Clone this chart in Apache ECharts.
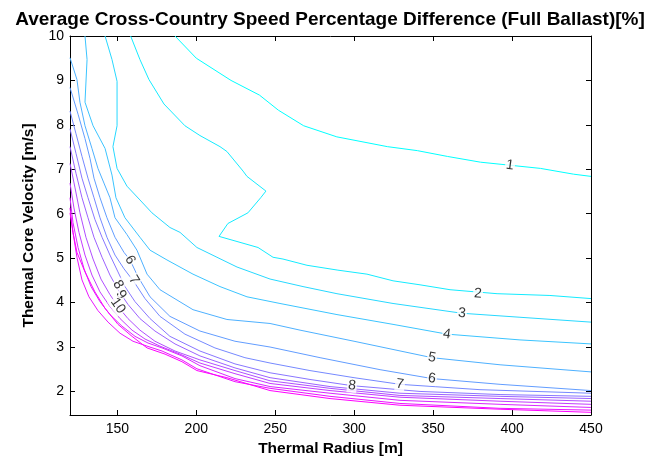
<!DOCTYPE html>
<html>
<head>
<meta charset="utf-8">
<script src="https://cdn.jsdelivr.net/npm/echarts@6/dist/echarts.min.js"></script>
<style>html,body{margin:0;padding:0;background:#fff}#c{width:660px;height:462px}</style>
</head>
<body>
<div id="c"></div>
<script>
const titleText = 'Average Cross-Country Speed Percentage Difference (Full Ballast)[%]';
const xName = 'Thermal Radius [m]';
const yName = 'Thermal Core Velocity [m/s]';
const xTicks = [150, 200, 250, 300, 350, 400, 450];
const yTicks = [2, 3, 4, 5, 6, 7, 8, 9, 10];
const levels = [1, 2, 3, 4, 5, 6, 7, 8, 9, 10, 11, 12, 13, 14];

const contour1 = [[186.5,10],[200,9.5],[222,9.0],[240,8.67],[252,8.33],[268,7.98],[289,7.73],[321,7.51],[340,7.42],[359,7.29],[380,7.16],[399,7.09],[418,7.02],[439,6.89],[450,6.84]];
const contour2 = [[158.4,10],[164.3,9.47],[170,9.02],[179.5,8.47],[192.8,7.98],[202.3,7.76],[215,7.51],[219.4,7.4],[229.6,6.96],[232.1,6.84],[244.1,6.51],[240.8,6.36],[232.7,6.02],[220,5.78],[214.4,5.49],[239.1,5.24],[248.6,5.02],[254.9,4.98],[270.1,4.84],[289.7,4.73],[308.1,4.64],[324.6,4.49],[341.7,4.4],[360.7,4.29],[390.5,4.2],[424,4.16],[450,4.09]];
const contour3 = [[142.2,10],[146.6,9.47],[149.8,8.98],[149.8,7.98],[147.2,7.51],[149.8,7.02],[156.1,6.62],[164.3,6.31],[171.9,6.02],[183.3,5.69],[189.7,5.58],[200.4,5.24],[213.1,5.02],[225.8,4.8],[246.7,4.53],[267.6,4.36],[289.1,4.2],[324.6,3.98],[368.3,3.76],[405,3.67],[450,3.56]];
const contour4 = [[129.5,10],[130.8,9.47],[129.5,8.51],[134.6,7.98],[142.2,7.47],[146.6,6.87],[149.1,6.36],[154.8,5.91],[164.3,5.47],[170.7,5.18],[181.4,4.96],[197.9,4.64],[215,4.36],[232.1,4.13],[253,3.98],[289.1,3.73],[324.6,3.51],[358.8,3.29],[405,3.16],[450,3.07]];
const contour5 = [[120,9.51],[124.4,9.02],[126.3,8.51],[129.5,7.98],[133.9,7.47],[137.7,7.02],[141.5,6.69],[145.3,6.36],[148.5,5.91],[156.1,5.53],[162.4,5.18],[168.8,4.64],[177,4.29],[197.9,3.84],[219.4,3.62],[246.7,3.53],[265.7,3.38],[299.9,3.13],[349.3,2.76],[392.4,2.6],[450,2.44]];
const contour6 = [[120,8.84],[125.1,8.24],[129.5,7.69],[132.7,7.24],[135.2,6.8],[139,6.36],[143.4,5.91],[148.5,5.47],[154.2,5.13],[158,4.96],[163.1,4.58],[170.7,4.13],[183.3,3.69],[202.3,3.36],[224.5,3.13],[246.7,3.0],[278.4,2.76],[316.4,2.49],[349.3,2.29],[392.4,2.16],[450,2.02]];
const contour7 = [[120,8.31],[123.8,7.8],[127.6,7.29],[131.4,6.8],[135.2,6.36],[139,5.91],[143.4,5.47],[148.5,5.07],[154.2,4.76],[160.5,4.47],[167.5,4.09],[177,3.69],[192.8,3.29],[211.8,2.98],[230.8,2.76],[246.7,2.64],[272,2.47],[299.9,2.31],[329,2.16],[379.7,2.04],[450,1.96]];
const contour8 = [[120,7.91],[123.8,7.36],[127.6,6.8],[131.4,6.36],[135.8,5.87],[140.3,5.47],[145.3,5.07],[150.4,4.69],[154.8,4.36],[161.2,4.02],[170.7,3.64],[183.3,3.24],[202.3,2.91],[224.5,2.62],[246.7,2.42],[272,2.27],[298.6,2.13],[341.7,2.0],[392.4,1.93],[450,1.89]];
const contour9 = [[120,7.51],[123.8,6.91],[127.6,6.36],[131.4,5.91],[135.2,5.47],[140.3,5.02],[145.3,4.62],[150.4,4.29],[156.7,3.96],[164.3,3.64],[173.8,3.36],[186.5,3.07],[202.3,2.8],[224.5,2.53],[246.7,2.31],[284.7,2.11],[329,1.96],[392.4,1.89],[450,1.84]];
const contour10 = [[120,7.13],[123.2,6.58],[126.3,6.02],[130.1,5.47],[134.6,4.98],[139.6,4.53],[145.3,4.18],[150.4,3.91],[156.7,3.64],[164.3,3.38],[173.8,3.13],[186.5,2.91],[202.3,2.71],[224.5,2.47],[246.7,2.24],[284.7,2.07],[329,1.91],[392.4,1.84],[450,1.78]];
const contour11 = [[120,6.69],[122.5,6.13],[125.7,5.58],[129.5,5.07],[133.9,4.62],[139,4.24],[145.3,3.91],[151.7,3.64],[159.3,3.38],[167.5,3.18],[177,3.02],[189.7,2.84],[202.3,2.64],[224.5,2.4],[246.7,2.18],[284.7,2.02],[329,1.87],[392.4,1.78],[450,1.71]];
const contour12 = [[120,6.36],[121.9,5.8],[125.1,5.24],[128.9,4.76],[133.3,4.36],[139,4.02],[145.3,3.73],[152.9,3.47],[161.2,3.24],[169.4,3.09],[178.3,2.98],[190.9,2.8],[202.3,2.58],[224.5,2.29],[246.7,2.11],[284.7,1.96],[329,1.8],[392.4,1.71],[450,1.64]];
const contour13 = [[120,6.13],[121.9,5.58],[124.4,5.02],[127.6,4.51],[132,4.13],[137.7,3.82],[144.1,3.56],[151.7,3.31],[159.9,3.13],[168.8,3.02],[178.3,2.91],[190.9,2.71],[200.4,2.51],[224.5,2.22],[246.7,2.07],[284.7,1.89],[329,1.73],[392.4,1.62],[450,1.58]];
const contour14 = [[120,6.02],[121.9,5.58],[124.4,5.13],[129.5,4.69],[135.8,4.24],[142.2,3.87],[150.4,3.51],[159.3,3.24],[168.8,2.98],[180.2,2.84],[190.9,2.67],[200.4,2.47],[219.4,2.31],[246.7,2.02],[284.7,1.84],[329,1.69],[392.4,1.6],[450,1.53]];

const contours = [contour1, contour2, contour3, contour4, contour5, contour6, contour7, contour8, contour9, contour10, contour11, contour12, contour13, contour14];

// contour labels: [x, y, text, angle]
const contourLabels = [
  [398.7, 7.09, '1', -8],
  [378.4, 4.20, '2', -4],
  [368.3, 3.76, '3', -5],
  [358.8, 3.29, '4', -8],
  [349.3, 2.76, '5', -10],
  [349.3, 2.29, '6', -8],
  [329.0, 2.16, '7', -8],
  [298.6, 2.13, '8', -6],
  [158.0, 4.96, '6', -60],
  [160.5, 4.51, '7', -58],
  [150.4, 4.40, '8', -60],
  [152.3, 4.18, '9', -60],
  [150.4, 3.93, '10', -55]
];

function coolColor(k) {
  const t = (k - levels[0]) / (levels[levels.length - 1] - levels[0]);
  const r = Math.round(255 * t), g = Math.round(255 * (1 - t));
  return 'rgb(' + r + ',' + g + ',255)';
}

const series = contours.map((pts, i) => ({
  type: 'line',
  name: 'L' + levels[i],
  data: pts,
  showSymbol: false,
  symbol: 'none',
  smooth: false,
  silent: true,
  lineStyle: { width: 1, color: coolColor(levels[i]) },
  z: 2
}));

series.push({
  type: 'scatter',
  data: contourLabels.map(l => ({ value: [l[0], l[1]], name: l[2], label: { rotate: l[3] } })),
  symbolSize: 1,
  itemStyle: { color: 'rgba(0,0,0,0)' },
  silent: true,
  z: 5,
  label: {
    show: true,
    position: 'inside',
    formatter: p => p.name,
    fontFamily: 'Liberation Sans',
    fontSize: 14,
    color: '#000',
    backgroundColor: '#fff',
    padding: [0, 1]
  }
});

const axisCommonX = {
  type: 'value', min: 120, max: 450,
  axisLine: { show: true, onZero: false, lineStyle: { color: '#000', width: 1 } },
  axisTick: { show: true, inside: true, length: 5, customValues: xTicks, lineStyle: { color: '#000' } },
  splitLine: { show: false }
};
const axisCommonY = {
  type: 'value', min: 1.47, max: 10,
  axisLine: { show: true, onZero: false, lineStyle: { color: '#000', width: 1 } },
  axisTick: { show: true, inside: true, length: 5, customValues: yTicks, lineStyle: { color: '#000' } },
  splitLine: { show: false }
};

const chart = echarts.init(document.getElementById('c'), null, { renderer: 'canvas' });
chart.setOption({
  animation: false,
  backgroundColor: '#fff',
  title: {
    text: titleText, left: 'center', top: 5,
    textStyle: { fontFamily: 'Liberation Sans', fontWeight: 'bold', fontSize: 19, color: '#000' }
  },
  grid: { left: 70, top: 36, width: 521, height: 383, containLabel: false },
  xAxis: [
    Object.assign({}, axisCommonX, {
      position: 'bottom',
      axisLabel: { show: true, customValues: xTicks, color: '#000', fontFamily: 'Liberation Sans', fontSize: 14, margin: 7 },
      name: xName, nameLocation: 'middle', nameGap: 26,
      nameTextStyle: { fontFamily: 'Liberation Sans', fontWeight: 'bold', fontSize: 15.5, color: '#000' }
    }),
    Object.assign({}, axisCommonX, { position: 'top', axisLabel: { show: false } })
  ],
  yAxis: [
    Object.assign({}, axisCommonY, {
      position: 'left',
      axisLabel: { show: true, customValues: yTicks, color: '#000', fontFamily: 'Liberation Sans', fontSize: 14, margin: 6 },
      name: yName, nameLocation: 'middle', nameGap: 33, nameRotate: 90,
      nameTextStyle: { fontFamily: 'Liberation Sans', fontWeight: 'bold', fontSize: 15.5, color: '#000' }
    }),
    Object.assign({}, axisCommonY, { position: 'right', axisLabel: { show: false } })
  ],
  series: series
});
</script>
</body>
</html>
